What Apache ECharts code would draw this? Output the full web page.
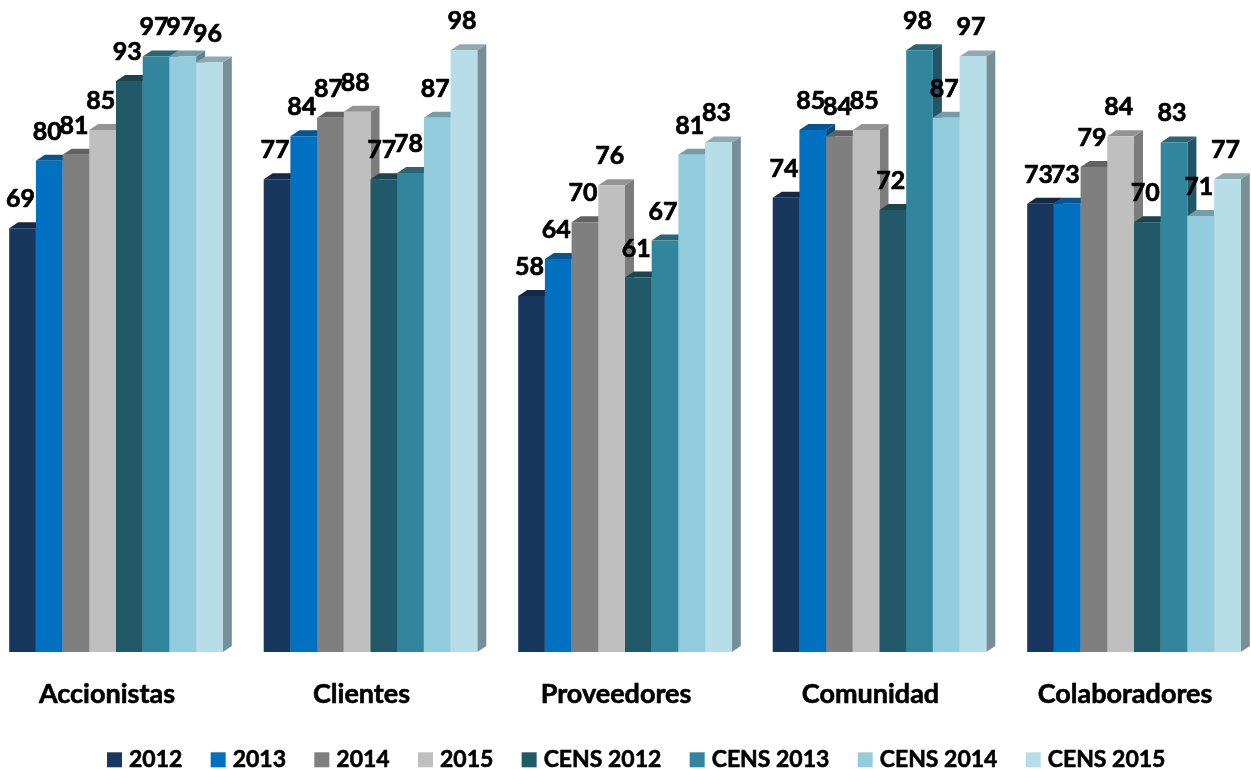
<!DOCTYPE html>
<html>
<head>
<meta charset="utf-8">
<style>html,body{margin:0;padding:0;background:#fff}</style>
<script src="https://cdn.jsdelivr.net/npm/echarts@6/dist/echarts.min.js"></script>
</head>
<body>
<div id="main" style="width:1251px;height:769px"></div>
<script type="text/javascript">
    var categories = ['Accionistas', 'Clientes', 'Proveedores', 'Comunidad', 'Colaboradores'];
    var names = ['2012', '2013', '2014', '2015', 'CENS 2012', 'CENS 2013', 'CENS 2014', 'CENS 2015'];
    var colors = ['#17375E', '#0070C0', '#7F7F7F', '#BFBFBF', '#215968', '#31859C', '#93CDDD', '#B7DEE8'];

    var v2012 = [69, 77, 58, 74, 73];
    var v2013 = [80, 84, 64, 85, 73];
    var v2014 = [81, 87, 70, 84, 79];
    var v2015 = [85, 88, 76, 85, 84];
    var cens2012 = [93, 77, 61, 72, 70];
    var cens2013 = [97, 78, 67, 98, 83];
    var cens2014 = [97, 87, 81, 87, 71];
    var cens2015 = [96, 98, 83, 97, 77];
    var allValues = [v2012, v2013, v2014, v2015, cens2012, cens2013, cens2014, cens2015];

    var FONT = 'Lato, "Open Sans", sans-serif';
    var barW = 26.7, depthX = 9, depthY = 6;

    var myChart = echarts.init(document.getElementById('main'));

    function darken(c, k) {
        var rgb = echarts.color.parse(c);
        return 'rgb(' + Math.round(rgb[0] * k) + ',' + Math.round(rgb[1] * k) + ',' + Math.round(rgb[2] * k) + ')';
    }

    // the 3D look: front face, top and right side around each bar
    function makeRender(idx) {
        return function (params, api) {
            var p = api.coord([api.value(0), api.value(1)]);
            var base = api.coord([api.value(0), 0]);
            var x = p[0] + depthX + (idx - 4) * barW;
            var y = p[1], y0 = base[1];
            var c = colors[idx];
            return {
                type: 'group',
                children: [{
                    type: 'polygon',
                    z2: idx,
                    shape: {points: [[x + barW, y], [x + barW + depthX, y - depthY], [x + barW + depthX, y0 - depthY], [x + barW, y0]]},
                    style: {fill: darken(c, 0.65)}
                }, {
                    type: 'polygon',
                    z2: idx,
                    shape: {points: [[x, y], [x + depthX, y - depthY], [x + barW + depthX, y - depthY], [x + barW, y]]},
                    style: {fill: darken(c, 0.77)}
                }, {
                    type: 'rect',
                    z2: idx,
                    shape: {x: x, y: y, width: barW, height: y0 - y},
                    style: {fill: c}
                }, {
                    type: 'text',
                    z2: 100,
                    style: {
                        x: x + barW / 2 - 2,
                        y: y - 29,
                        text: String(api.value(1)),
                        align: 'center',
                        verticalAlign: 'middle',
                        fill: '#000',
                        stroke: '#000',
                        lineWidth: 0.7,
                        font: 'bold 25px ' + FONT
                    }
                }]
            };
        };
    }

    var seriesList = [];
    names.forEach(function (name, idx) {
        seriesList.push({
            type: 'custom',
            name: name,
            renderItem: makeRender(idx),
            itemStyle: {color: colors[idx]},
            encode: {x: 0, y: 1},
            data: allValues[idx].map(function (v, i) { return [i, v]; }),
            clip: false,
            animation: false
        });
    });

    var option = {
        animation: false,
        backgroundColor: '#fff',
        grid: {left: 107, top: 38, width: 1018, height: 614},
        legend: {
            left: 102,
            top: 743,
            icon: 'rect',
            itemWidth: 15,
            itemHeight: 15,
            itemGap: 28,
            data: names,
            textStyle: {
                color: '#000', fontFamily: FONT, fontWeight: 'bold', fontSize: 23,
                textBorderColor: '#000', textBorderWidth: 0.6, padding: [0, 0, 0, 2]
            }
        },
        xAxis: {
            type: 'category',
            boundaryGap: false,
            data: categories,
            axisLine: {show: false},
            axisTick: {show: false},
            axisLabel: {
                color: '#000', fontFamily: FONT, fontWeight: 'bold', fontSize: 27, margin: 29, interval: 0,
                textBorderColor: '#000', textBorderWidth: 0.6
            }
        },
        yAxis: {
            type: 'value',
            min: 0,
            max: 100,
            show: false,
            splitLine: {show: false}
        },
        series: seriesList
    };

    myChart.setOption(option);
</script>
</body>
</html>
